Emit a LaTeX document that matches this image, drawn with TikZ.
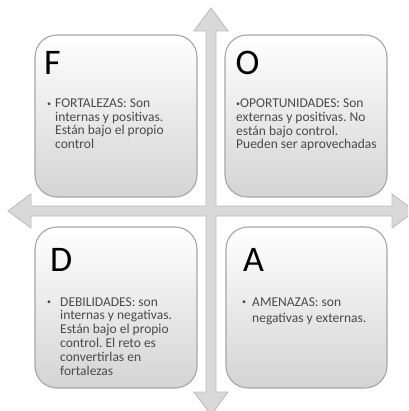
\documentclass[tikz,border=0pt]{standalone}
\usepackage{fontspec}
\setmainfont{Carlito}
\frenchspacing
\definecolor{arrowfill}{HTML}{D9D9D9}
\definecolor{arrowline}{HTML}{BDBDBD}
\definecolor{boxline}{HTML}{A6A6A6}
\definecolor{boxbottom}{HTML}{D4D4D4}
\definecolor{bodytext}{HTML}{4A4A4A}
\newcommand{\smalldot}{\raisebox{1.6pt}{\fontsize{8}{8}\selectfont\textbullet}}
\tikzset{
  quadbox/.style={rounded corners=22pt, top color=white, bottom color=boxbottom,
    draw=boxline, line width=1.1pt},
  letter/.style={anchor=base west, inner sep=0pt, font=\fontsize{36}{36}\selectfont, text=black},
  bodytxt/.style={anchor=base west, inner sep=0pt, text=bodytext},
  cross/.style={fill=arrowfill, draw=arrowline, line width=0.9pt, line join=miter},
}
\begin{document}
\begin{tikzpicture}[x=1pt, y=-1pt]
\useasboundingbox (0,0) rectangle (408,411);
\clip (0,0) rectangle (408,411);

% axes: one double cross with four arrow heads
\coordinate (c) at (211,211);
\draw[cross] (211,8) -- (228,31) -- (216,31) -- (216,206) -- (392,206) -- (392,194)
  -- (415,211) -- (392,228) -- (392,216) -- (216,216) -- (216,392) -- (228,392)
  -- (211,415) -- (194,392) -- (206,392) -- (206,216) -- (31,216) -- (31,228)
  -- (8,211) -- (31,194) -- (31,206) -- (206,206) -- (206,31) -- (194,31) -- cycle;

% quadrant boxes
\path[quadbox] (35,35) rectangle (197,197);
\path[quadbox] (225,35) rectangle (387,197);
\path[quadbox] (35,227) rectangle (197,388);
\path[quadbox] (226,227) rectangle (387,388);

% headings
\node[letter] (F) at (44,75) {F};
\node[letter] (O) at (235.5,74.5) {O};
\node[letter] (D) at (50,271) {D};
\node[letter] (A) at (243,271) {A};

% descriptions
\node[bodytxt] (tF) at (47,108) {\fontsize{13.5}{13.5}\selectfont
  \begin{tabular}[t]{@{}p{8pt}@{}l@{}}
  \smalldot & FORTALEZAS: Son\\
  & internas y positivas.\\
  & Están bajo el propio\\
  & control
  \end{tabular}};
\node[bodytxt] (tO) at (236,108) {\fontsize{13.5}{13.6}\selectfont
  \begin{tabular}[t]{@{}l@{}}
  \smalldot OPORTUNIDADES: Son\\
  externas y positivas. No\\
  están bajo control.\\
  Pueden ser aprovechadas
  \end{tabular}};
\node[bodytxt] (tD) at (47,306) {\fontsize{13.5}{13.8}\selectfont
  \begin{tabular}[t]{@{}p{13pt}@{}l@{}}
  \smalldot & DEBILIDADES: son\\
  & internas y negativas.\\
  & Están bajo el propio\\
  & control. El reto es\\
  & convertirlas en\\
  & fortalezas
  \end{tabular}};
\node[bodytxt] (tA) at (242,306) {\fontsize{13.5}{16}\selectfont
  \begin{tabular}[t]{@{}p{10pt}@{}l@{}}
  \smalldot & AMENAZAS: son\\
  & negativas y externas.
  \end{tabular}};
\end{tikzpicture}
\end{document}
